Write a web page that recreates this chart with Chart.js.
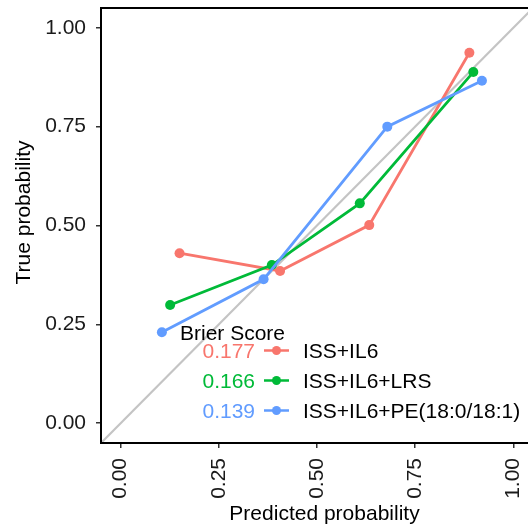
<!DOCTYPE html>
<html>
<head>
<meta charset="utf-8">
<script src="https://cdn.jsdelivr.net/npm/chart.js@4.4.1/dist/chart.umd.min.js"></script>
<style>
  html, body { margin: 0; padding: 0; background: #fff; overflow: hidden; }
  #wrap { width: 538px; height: 527px; }
</style>
</head>
<body>
<div id="wrap"><canvas id="calib" width="538" height="527"></canvas></div>
<script>
// Calibration curves
const models = ['ISS+IL6', 'ISS+IL6+LRS', 'ISS+IL6+PE(18:0/18:1)'];
const brierScores = [0.177, 0.166, 0.139];
const colors = ['#F8766D', '#00BA38', '#619CFF'];

const il6X = [0.150, 0.406, 0.633, 0.888];
const il6Y = [0.430, 0.385, 0.501, 0.937];
const lrsX = [0.126, 0.385, 0.609, 0.898];
const lrsY = [0.299, 0.400, 0.556, 0.888];
const peX  = [0.105, 0.364, 0.679, 0.920];
const peY  = [0.230, 0.364, 0.750, 0.866];

// ideal calibration line (corner to corner)
const idealLine = [-0.05, 1.05];
const tickValues = [0, 0.25, 0.5, 0.75, 1];

const FONT = 'Liberation Sans, Arial, sans-serif';

function pts(xs, ys) {
    return xs.map((x, i) => ({ x: x, y: ys[i] }));
}

function series(i, xs, ys) {
    return {
        label: models[i],
        data: pts(xs, ys),
        showLine: true,
        borderColor: colors[i],
        backgroundColor: colors[i],
        borderWidth: 2.8,
        pointRadius: 5,
        pointBorderWidth: 0,
        order: 3 - i
    };
}

// fixed axis sizes, no extra label padding
function fixSize(prop, size) {
    return s => {
        s[prop] = size;
        s.paddingTop = 0; s.paddingBottom = 0;
        s.paddingLeft = 0; s.paddingRight = 0;
    };
}

// panel border, axis titles and the Brier score legend
const decor = {
    id: 'decor',
    afterDraw(chart) {
        const ctx = chart.ctx;
        const a = chart.chartArea;
        ctx.save();
        ctx.strokeStyle = '#000';
        ctx.lineWidth = 2;
        ctx.strokeRect(a.left, a.top, a.right - a.left, a.bottom - a.top);

        ctx.fillStyle = '#000';
        ctx.font = '21px ' + FONT;
        ctx.textBaseline = 'alphabetic';
        ctx.textAlign = 'center';
        ctx.fillText('Predicted probability', 324.5, 519.5);
        ctx.save();
        ctx.translate(30, 212.5);
        ctx.rotate(-Math.PI / 2);
        ctx.fillText('True probability', 0, 0);
        ctx.restore();

        // legend
        ctx.textAlign = 'left';
        ctx.fillText('Brier Score', 180, 340);
        models.forEach((m, i) => {
            const y = 358 + i * 30;
            const mid = y - 7.5;
            ctx.textAlign = 'right';
            ctx.fillStyle = colors[i];
            ctx.fillText(brierScores[i].toFixed(3), 255, y);
            ctx.strokeStyle = colors[i];
            ctx.lineWidth = 2.5;
            ctx.beginPath();
            ctx.moveTo(264, mid);
            ctx.lineTo(289, mid);
            ctx.stroke();
            ctx.beginPath();
            ctx.arc(276.5, mid, 4.5, 0, Math.PI * 2);
            ctx.fill();
            ctx.textAlign = 'left';
            ctx.fillStyle = '#000';
            ctx.fillText(m, 303, y);
        });
        ctx.restore();
    }
};

const tickFont = { family: FONT, size: 21 };

new Chart(document.getElementById('calib'), {
    type: 'scatter',
    data: {
        datasets: [
            series(0, il6X, il6Y),
            series(1, lrsX, lrsY),
            series(2, peX, peY),
            {
                label: 'ideal',
                data: pts(idealLine, idealLine),
                showLine: true,
                borderColor: '#C4C4C4',
                borderWidth: 2.2,
                pointRadius: 0,
                order: 10
            }
        ]
    },
    options: {
        responsive: false,
        animation: false,
        layout: { padding: { top: 8, right: 1, left: 0, bottom: 0 } },
        plugins: {
            legend: { display: false },
            tooltip: { enabled: false }
        },
        scales: {
            x: {
                type: 'linear',
                min: -0.05,
                max: 1.05,
                afterBuildTicks: s => { s.ticks = tickValues.map(v => ({ value: v })); },
                afterFit: fixSize('height', 84),
                border: { display: false },
                grid: { drawOnChartArea: false, drawTicks: true, tickLength: 5, color: '#333', lineWidth: 1.5 },
                ticks: {
                    minRotation: 90, maxRotation: 90, padding: 10,
                    color: '#1a1a1a', font: tickFont,
                    callback: v => v.toFixed(2)
                }
            },
            y: {
                type: 'linear',
                min: -0.05,
                max: 1.05,
                afterBuildTicks: s => { s.ticks = tickValues.map(v => ({ value: v })); },
                afterFit: fixSize('width', 101),
                border: { display: false },
                grid: { drawOnChartArea: false, drawTicks: true, tickLength: 5, color: '#333', lineWidth: 1.5 },
                ticks: {
                    padding: 10,
                    color: '#1a1a1a', font: tickFont,
                    callback: v => v.toFixed(2)
                }
            }
        }
    },
    plugins: [decor]
});
</script>
</body>
</html>
